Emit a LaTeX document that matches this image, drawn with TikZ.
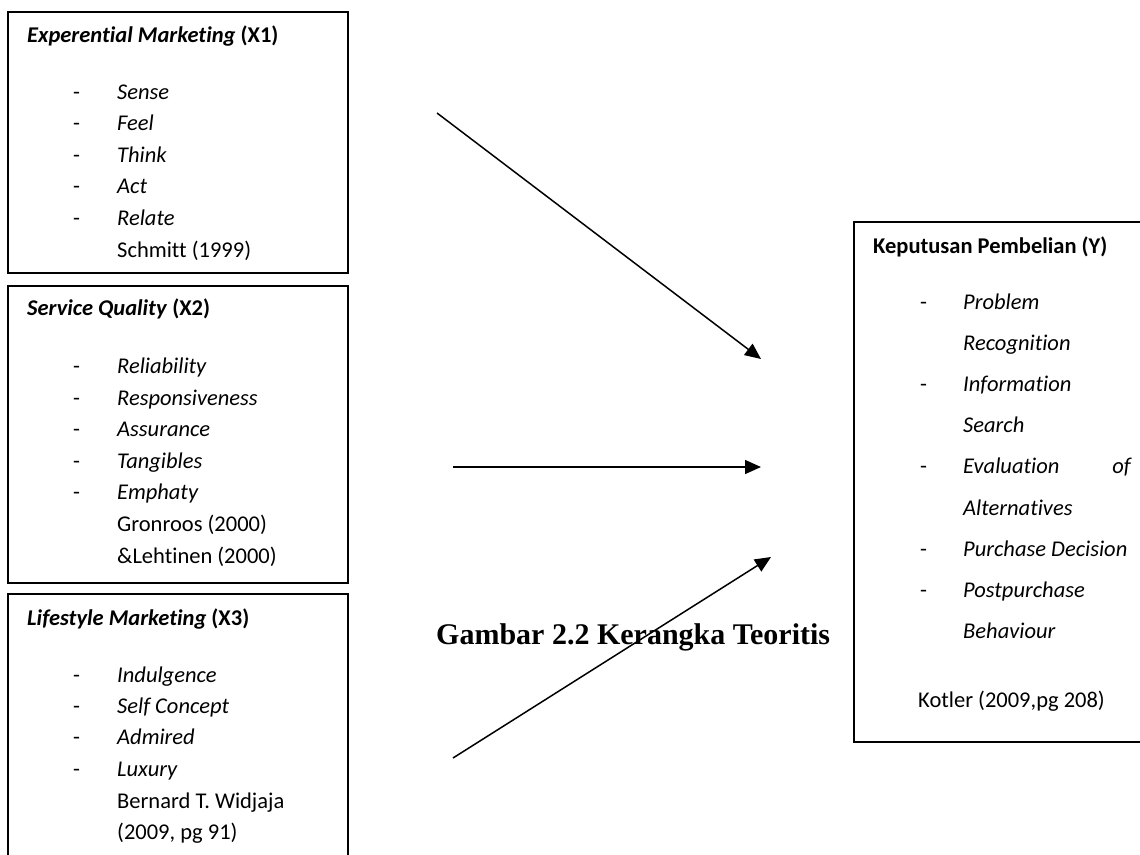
\documentclass[tikz,border=0pt]{standalone}
\usepackage{fontspec}
\setmainfont{Carlito}[Ligatures=NoCommon]
\newfontfamily\judulfont{Liberation Serif}
\usepackage{tikz}
\usetikzlibrary{arrows.meta}
\usetikzlibrary{positioning}

\newcommand{\kotakfont}{\fontsize{22.5}{27}\selectfont}

\begin{document}
\begin{tikzpicture}[x=1pt,y=-1pt,
  kotak/.style={draw,line width=1.6pt,anchor=north west,inner sep=0pt},
  judul/.style={anchor=base west,inner sep=0pt,font=\kotakfont\bfseries},
  butir/.style={anchor=base west,inner sep=0pt,font=\kotakfont\itshape},
  strip/.style={anchor=base west,inner sep=0pt,font=\kotakfont},
  sumber/.style={anchor=base west,inner sep=0pt,font=\kotakfont},
  panah/.style={-{Triangle[length=16pt,width=14pt]},line width=1.5pt}]

\clip (0,0) rectangle (1140,854);

% kotak variabel
\node[kotak,minimum width=340pt,minimum height=261pt] (x1) at (7,11) {};
\node[kotak,minimum width=340pt,minimum height=297pt] (x2) at (7,285) {};
\node[kotak,minimum width=340pt,minimum height=290pt] (x3) at (7,593) {};
\node[kotak,minimum width=300pt,minimum height=520pt] (y) at (853,221) {};

% X1
\node[judul] (x1 judul) at (27,42) {\textit{Experential Marketing} (X1)};
\foreach \t [count=\i from 0] in {Sense,Feel,Think,Act,Relate} {
  \node[strip] (x1 strip\i) at (73,99.3+31.5*\i) {-};
  \node[butir] (x1 butir\i) at (117,99.3+31.5*\i) {\t};
}
\node[sumber] (x1 sumber) at (117,257) {Schmitt (1999)};

% X2
\node[judul] (x2 judul) at (27,315) {\textit{Service Quality} (X2)};
\foreach \t [count=\i from 0] in {Reliability,Responsiveness,Assurance,Tangibles,Emphaty} {
  \node[strip] (x2 strip\i) at (73,373.5+31.6*\i) {-};
  \node[butir] (x2 butir\i) at (117,373.5+31.6*\i) {\t};
}
\node[sumber] (x2 sumber1) at (117,531.5) {Gronroos (2000)};
\node[sumber] (x2 sumber2) at (117,563) {\&Lehtinen (2000)};

% X3
\node[judul] (x3 judul) at (27,625) {\textit{Lifestyle Marketing} (X3)};
\foreach \t [count=\i from 0] in {Indulgence,Self Concept,Admired,Luxury} {
  \node[strip] (x3 strip\i) at (73,682+31.4*\i) {-};
  \node[butir] (x3 butir\i) at (117,682+31.4*\i) {\t};
}
\node[sumber] (x3 sumber1) at (117,808) {Bernard T. Widjaja};
\node[sumber] (x3 sumber2) at (117,839) {(2009, pg 91)};

% Y
\node[judul] (y judul) at (873,253) {Keputusan Pembelian (Y)};
\foreach \t/\d [count=\i from 0] in {Problem/1,Recognition/0,Information/1,Search/0,Evaluation/1,Alternatives/0,Purchase Decision/1,Postpurchase/1,Behaviour/0} {
  \node[butir] (y butir\i) at (963,309+41.2*\i) {\t};
  \ifnum\d=1 \node[strip] (y strip\i) at (920,309+41.2*\i) {-}; \fi
}
\node[butir,anchor=base east] (y of) at (1131,473.8) {of};
\node[sumber] (y sumber) at (918,707) {Kotler (2009,pg 208)};

\node[anchor=base west,inner sep=0pt,font=\judulfont\bfseries\fontsize{30}{36}\selectfont] (gambar) at (436,644) {Gambar 2.2 Kerangka Teoritis};

% panah
\coordinate (x1 ujung) at (437,113);
\coordinate (x2 ujung) at (453,467);
\coordinate (x3 ujung) at (453,758);
\coordinate (y masuk1) at (761,359);
\coordinate (y masuk2) at (761,467);
\coordinate (y masuk3) at (771,557);
\draw[panah] (x1 ujung) -- (y masuk1);
\draw[panah] (x2 ujung) -- (y masuk2);
\draw[panah] (x3 ujung) -- (y masuk3);
\end{tikzpicture}
\end{document}
